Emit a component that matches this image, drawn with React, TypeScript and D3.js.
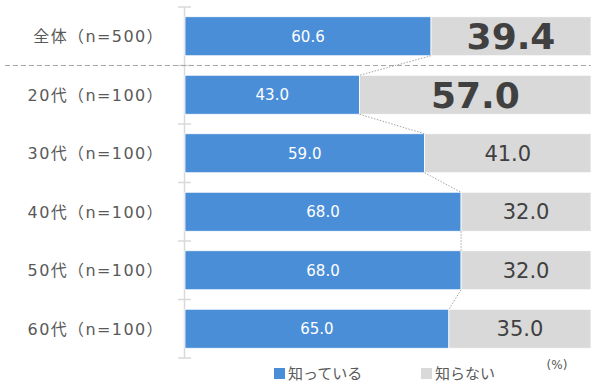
import React from "react";
import * as d3 from "d3";

const categories = ["全体（n=500）", "20代（n=100）", "30代（n=100）", "40代（n=100）", "50代（n=100）", "60代（n=100）"];
const knowValues = [60.6, 43.0, 59.0, 68.0, 68.0, 65.0];
const unknownValues = [39.4, 57.0, 41.0, 32.0, 32.0, 35.0];
const seriesNames = ["知っている", "知らない"];
const highlighted = [true, true, false, false, false, false];

const W = 591;
const H = 384;
const BLUE = "#4a8ed8";
const GRAY = "#d9d9d9";
const NUM_FONT = "'DejaVu Sans', 'Noto Sans CJK JP', sans-serif";
const JP_FONT = "'DejaVu Sans', 'Noto Sans CJK JP', sans-serif";

export default function App() {
  const x = d3.scaleLinear().domain([0, 100]).range([185, 591]);
  const y = d3.scaleBand<string>().domain(categories).range([7, 358]).paddingInner(0.333).paddingOuter(0.1665);
  const bw = y.bandwidth();
  const step = y.step();
  const tickYs = d3.range(categories.length + 1).map((i) => 7 + i * step);

  return (
    <svg width={W} height={H} style={{ position: "absolute", left: 0, top: 0 }}>
      {/* axis */}
      <line x1={184.5} x2={184.5} y1={tickYs[0]} y2={tickYs[tickYs.length - 1]} stroke="#d9d9d9" strokeWidth={1.5} />
      {tickYs.map((ty, i) => (
        <line key={i} x1={178} x2={191} y1={ty} y2={ty} stroke="#d9d9d9" strokeWidth={1.5} />
      ))}
      {/* separator */}
      <line x1={5} x2={591} y1={tickYs[1]} y2={tickYs[1]} stroke="#a6a6a6" strokeWidth={1} strokeDasharray="5,3" />
      {/* bars */}
      {categories.map((c, i) => {
        const y0 = y(c)!;
        return (
          <g key={c}>
            <rect x={x(0)} y={y0} width={x(knowValues[i]) - x(0)} height={bw} fill={BLUE} stroke="#ffffff" strokeWidth={0.8} />
            <rect x={x(knowValues[i])} y={y0} width={x(knowValues[i] + unknownValues[i]) - x(knowValues[i])} height={bw} fill={GRAY} stroke="#ffffff" strokeWidth={0.8} />
            <text x={(x(0) + x(knowValues[i])) / 2} y={y0 + bw / 2} dy="0.36em" textAnchor="middle" fill="#ffffff" fontSize={15} fontFamily={NUM_FONT}>
              {knowValues[i].toFixed(1)}
            </text>
            <text
              x={(x(knowValues[i]) + x(knowValues[i] + unknownValues[i])) / 2}
              y={y0 + bw / 2}
              dy="0.36em"
              textAnchor="middle"
              fill="#404040"
              fontSize={highlighted[i] ? 36 : 21}
              fontWeight={highlighted[i] ? "bold" : "normal"}
              fontFamily={NUM_FONT}
            >
              {unknownValues[i].toFixed(1)}
            </text>
            <text x={164} y={y0 + bw / 2} dy="0.36em" textAnchor="end" fill="#595959" fontSize={16} letterSpacing={1.4} fontFamily={JP_FONT}>
              {c}
            </text>
          </g>
        );
      })}
      {/* connectors */}
      {categories.slice(0, -1).map((c, i) => (
        <line
          key={"conn" + i}
          x1={x(knowValues[i])}
          y1={y(c)! + bw}
          x2={x(knowValues[i + 1])}
          y2={y(categories[i + 1])!}
          stroke="#a6a6a6"
          strokeWidth={1}
          strokeDasharray="1.5,1.5"
        />
      ))}
      {/* legend */}
      <rect x={274} y={368} width={11} height={11} fill={BLUE} />
      <text x={288} y={373.5} dy="0.36em" fill="#595959" fontSize={15} fontFamily="'Noto Sans CJK JP', sans-serif">
        {seriesNames[0]}
      </text>
      <rect x={421} y={368} width={11} height={11} fill={GRAY} />
      <text x={435} y={373.5} dy="0.36em" fill="#595959" fontSize={15} fontFamily="'Noto Sans CJK JP', sans-serif">
        {seriesNames[1]}
      </text>
      <text x={557} y={365} dy="0.36em" textAnchor="middle" fill="#595959" fontSize={12} fontFamily={NUM_FONT}>
        (%)
      </text>
    </svg>
  );
}
